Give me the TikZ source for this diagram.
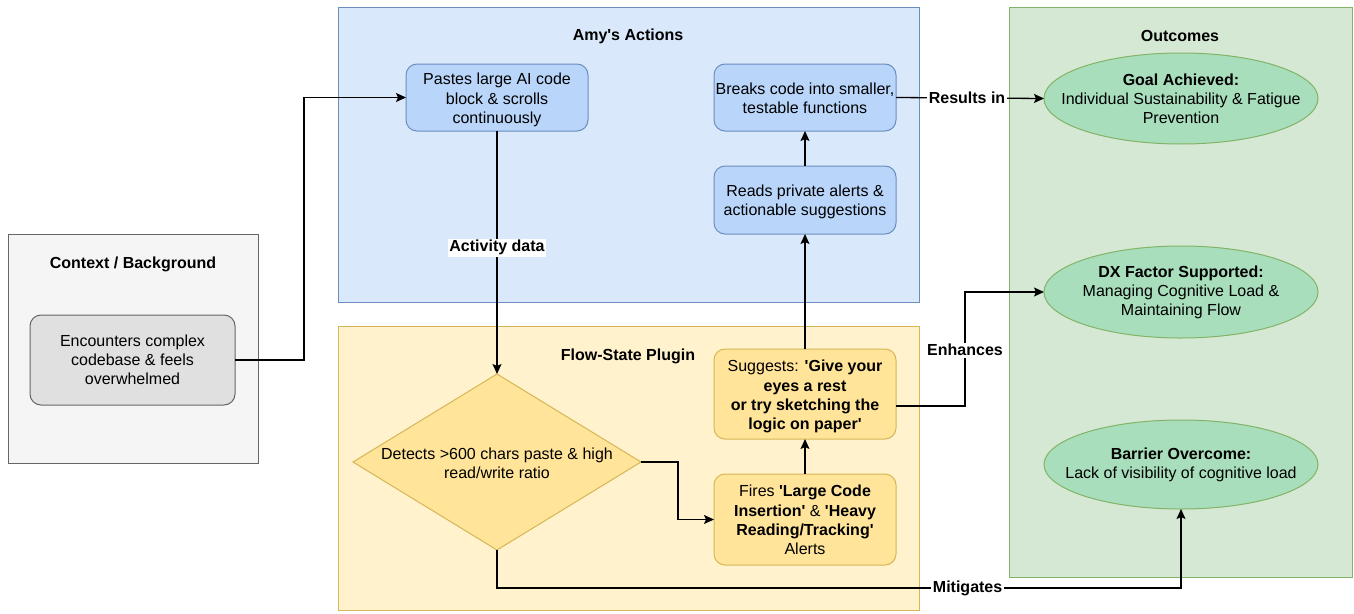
\documentclass[tikz,border=0pt]{standalone}
\usepackage{fontspec}
\setmainfont{Liberation Sans}
\usetikzlibrary{arrows.meta,shapes.geometric}
\definecolor{grayfill}{HTML}{F5F5F5}
\definecolor{grayline}{HTML}{666666}
\definecolor{graynode}{HTML}{E0E0E0}
\definecolor{bluefill}{HTML}{DAE8FC}
\definecolor{blueline}{HTML}{6C8EBF}
\definecolor{bluenode}{HTML}{B9D6FA}
\definecolor{yelfill}{HTML}{FFF2CC}
\definecolor{yelline}{HTML}{D6B656}
\definecolor{yelnode}{HTML}{FFE499}
\definecolor{grnfill}{HTML}{D5E8D4}
\definecolor{grnline}{HTML}{82B366}
\definecolor{grnnode}{HTML}{A8DEBC}
\newcommand{\sq}{\textquotesingle}
\begin{document}
\begin{tikzpicture}[x=1pt,y=-1pt,
  every node/.style={outer sep=0pt},
  font=\fontsize{16}{19.2}\selectfont,
  container/.style={draw, rectangle, line width=1pt, inner sep=0pt},
  titletext/.style={font=\fontsize{16}{19.2}\selectfont\bfseries},
  basebox/.style={draw, rectangle, rounded corners=11pt, line width=1pt, align=center, inner sep=0pt},
  graybox/.style={basebox, fill=graynode, draw=grayline},
  bluebox/.style={basebox, fill=bluenode, draw=blueline, minimum width=182pt},
  yelbox/.style={basebox, fill=yelnode, draw=yelline, minimum width=182pt},
  outcome/.style={draw=grnline, fill=grnnode, ellipse, line width=1pt, inner sep=0pt, minimum width=274pt},
  boxtext/.style={align=center, inner sep=0pt},
  edge/.style={draw=black, line width=1.3pt, -{Stealth[length=10pt,width=9pt,inset=2pt]}},
  lbl/.style={fill=white, inner sep=1.5pt, font=\fontsize{16}{19.2}\selectfont\bfseries}
]
\useasboundingbox (0,0) rectangle (1354,613);
\fill[white] (0,0) rectangle (1354,613);

% containers
\node[container, fill=grayfill, draw=grayline, minimum width=250pt, minimum height=229pt] (ctx) at (133,348.5) {};
\node[titletext] (ctxtitle) at (133,264) {Context / Background};
\node[container, fill=bluefill, draw=blueline, minimum width=581pt, minimum height=295pt] (amy) at (628.5,154.5) {};
\node[titletext] (amytitle) at (628,36) {Amy\sq s Actions};
\node[container, fill=yelfill, draw=yelline, minimum width=581pt, minimum height=284pt] (flow) at (628.5,468) {};
\node[titletext] (flowtitle) at (628,356) {Flow-State Plugin};
\node[container, fill=grnfill, draw=grnline, minimum width=343pt, minimum height=570pt] (out) at (1180.5,292) {};
\node[titletext] (outtitle) at (1180,36) {Outcomes};

% nodes
\node[graybox, minimum width=205pt, minimum height=90pt] (enc) at (132.5,360) {Encounters complex\\codebase \& feels\\overwhelmed};
\node[bluebox, minimum height=67pt] (pastes) at (497,97.5) {};
\node[boxtext] (pastestext) at (497,100) {Pastes large AI code\\block \& scrolls\\continuously};
\node[bluebox, minimum height=67pt] (breaks) at (805,97.5) {};
\node[boxtext] (breakstext) at (805,98.5) {Breaks code into smaller,\\testable functions};
\node[bluebox, minimum height=68pt] (reads) at (805,200) {};
\node[boxtext] (readstext) at (805,202) {Reads private alerts \&\\actionable suggestions};
\node[draw=yelline, fill=yelnode, diamond, line width=1pt, minimum width=288pt, minimum height=176pt, inner sep=0pt] (dia) at (497,462) {};
\node[boxtext] (diatext) at (497,463) {Detects >600 chars paste \& high\\read/write ratio};
\node[yelbox, minimum height=90pt] (sugg) at (805,394) {};
\node[boxtext] (suggtext) at (805,396.5) {Suggests: \textbf{\sq Give your}\\\textbf{eyes a rest}\\\textbf{or try sketching the}\\\textbf{logic on paper\sq}};
\node[yelbox, minimum height=91pt] (fires) at (805,519.5) {};
\node[boxtext] (firestext) at (805,520) {Fires \textbf{\sq Large Code}\\\textbf{Insertion\sq} \& \textbf{\sq Heavy}\\\textbf{Reading/Tracking\sq}\\Alerts};
\node[outcome, minimum height=91pt] (goal) at (1181,98.5) {};
\node[boxtext] (goaltext) at (1181,98.5) {\textbf{Goal Achieved:}\\Individual Sustainability \& Fatigue\\Prevention};
\node[outcome, minimum height=92pt] (dx) at (1181,292) {};
\node[boxtext] (dxtext) at (1181,292.5) {\textbf{DX Factor Supported:}\\Managing Cognitive Load \&\\Maintaining Flow};
\node[outcome, minimum height=89pt] (bar) at (1181,464.5) {};
\node[boxtext] (bartext) at (1181,464.5) {\textbf{Barrier Overcome:}\\Lack of visibility of cognitive load};

% connectors
\draw[edge] (enc.east) -- (304,360) |- (pastes.west);
\draw[edge] (pastes.south) -- node[lbl, pos=0.48] {Activity data} (dia.north);
\draw[edge] (dia.east) -- (678,462) |- (fires.west);
\draw[edge] (fires.north) -- (sugg.south);
\draw[edge] (sugg.north) -- (reads.south);
\draw[edge] (reads.north) -- (breaks.south);
\draw[edge] (breaks.east) -- node[lbl, pos=0.48] {Results in} (goal.west);
\coordinate (suggout) at (896,406);
\draw[edge] (suggout) -- (965,406) |- node[lbl, pos=0.245] {Enhances} (dx.west);
\draw[edge] (dia.south) -- (497,588) -| node[lbl, pos=0.344] {Mitigates} (bar.south);
\end{tikzpicture}
\end{document}
